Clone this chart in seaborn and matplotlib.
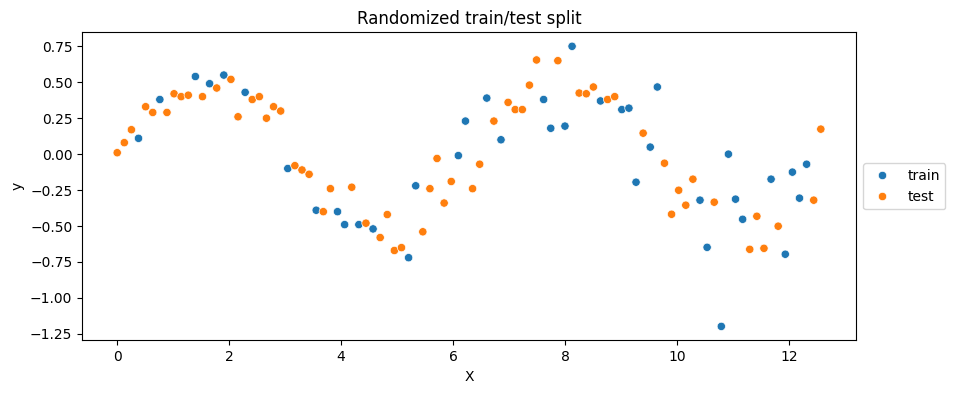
import numpy as np
import pandas as pd
import matplotlib
matplotlib.use("Agg")
import matplotlib.pyplot as plt
import seaborn as sns

# sample grid: 100 evenly spaced points on [0, 4*pi]
x_vals = np.linspace(0, 4 * np.pi, 100)

y_vals = [
    0.01, 0.08, 0.17, 0.11, 0.33, 0.29, 0.38, 0.29, 0.42, 0.40,
    0.41, 0.54, 0.40, 0.49, 0.46, 0.55, 0.52, 0.26, 0.43, 0.38,
    0.40, 0.25, 0.33, 0.30, -0.10, -0.08, -0.11, -0.14, -0.39, -0.40,
    -0.24, -0.40, -0.49, -0.23, -0.49, -0.48, -0.52, -0.58, -0.42, -0.67,
    -0.65, -0.72, -0.22, -0.54, -0.24, -0.03, -0.34, -0.19, -0.01, 0.23,
    -0.24, -0.07, 0.39, 0.23, 0.10, 0.36, 0.31, 0.31, 0.48, 0.655,
    0.38, 0.18, 0.65, 0.195, 0.75, 0.425, 0.42, 0.467, 0.37, 0.38,
    0.40, 0.31, 0.32, -0.195, 0.146, 0.049, 0.467, -0.063, -0.418, -0.251,
    -0.355, -0.174, -0.32, -0.648, -0.334, -1.198, 0.00, -0.313, -0.453, -0.662,
    -0.432, -0.655, -0.174, -0.501, -0.696, -0.125, -0.306, -0.070, -0.320, 0.174,
]

# which set each point went to
split = [
    "test", "test", "test", "train", "test", "test", "train", "test", "test", "test",
    "test", "train", "test", "train", "test", "train", "test", "test", "train", "test",
    "test", "test", "test", "test", "train", "test", "test", "test", "train", "test",
    "test", "train", "train", "test", "train", "test", "train", "test", "test", "test",
    "test", "train", "train", "test", "test", "test", "test", "test", "train", "train",
    "test", "test", "train", "test", "train", "test", "test", "test", "test", "test",
    "train", "train", "test", "train", "train", "test", "test", "test", "train", "test",
    "test", "train", "train", "train", "test", "train", "train", "test", "test", "test",
    "test", "test", "train", "train", "test", "train", "train", "train", "train", "test",
    "test", "test", "train", "test", "train", "train", "train", "train", "test", "test",
]

df = pd.DataFrame({"X": x_vals, "y": y_vals, "split": split})

fig, ax = plt.subplots(figsize=(9.56, 3.93), dpi=100)
fig.subplots_adjust(left=0.0858, right=0.8954, top=0.9178, bottom=0.1338)

sns.scatterplot(data=df, x="X", y="y", hue="split", hue_order=["train", "test"],
                palette=["#1f77b4", "#ff7f0e"], ax=ax)

ax.set_title("Randomized train/test split")
ax.set_xlabel("X")
ax.set_ylabel("y")
ax.legend(loc="center left", bbox_to_anchor=(1, 0.5))

fig.savefig("out.png", dpi=100)
